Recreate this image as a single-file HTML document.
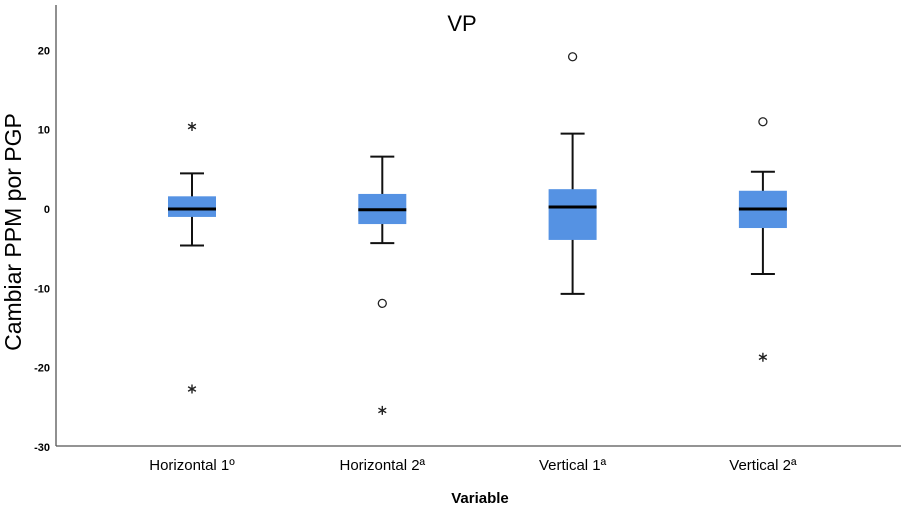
<!DOCTYPE html>
<html><head><meta charset="utf-8"><style>
body{margin:0;background:#fff;}
svg{display:block;font-family:"Liberation Sans",sans-serif;}
</style></head><body>
<svg id="chart" width="905" height="510" viewBox="0 0 905 510">
<text x="462" y="31" font-size="22" text-anchor="middle" fill="#000">VP</text>
<line x1="56" y1="5" x2="56" y2="446" stroke="#555" stroke-width="1.3"/>
<line x1="56" y1="446" x2="901" y2="446" stroke="#555" stroke-width="1.3"/>
<text transform="translate(21,232) rotate(-90)" font-size="23" text-anchor="middle" fill="#000">Cambiar PPM por PGP</text>
<text x="480" y="503" font-size="15" font-weight="bold" text-anchor="middle" fill="#000">Variable</text>
<g id="yticks"></g><g id="xlabels"></g><g id="boxes"></g>
</svg>
<script>
const categories=["Horizontal 1º","Horizontal 2ª","Vertical 1ª","Vertical 2ª"];
const whiskerHigh=[4.5,6.6,9.5,4.7];
const q3=[1.6,1.9,2.5,2.3];
const median=[0,-0.1,0.25,0];
const q1=[-1.0,-1.9,-3.9,-2.4];
const whiskerLow=[-4.6,-4.3,-10.7,-8.2];
const circleOutliers=[[],[-11.9],[19.2],[11.0]];
const starOutliers=[[10.4,-22.7],[-25.4],[],[-18.7]];
const yTicks=[20,10,0,-10,-20,-30];
const NS="http://www.w3.org/2000/svg";
function y(v){return 209-v*7.93;}
function x(i){return 192+i*190.3;}
function mk(t,a,p){const e=document.createElementNS(NS,t);for(const k in a)e.setAttribute(k,a[k]);p.appendChild(e);return e;}
const yt=document.getElementById('yticks');
yTicks.forEach(v=>{const t=mk('text',{x:50,y:y(v)+4,'font-size':11,'font-weight':'bold','text-anchor':'end',fill:'#000'},yt);


t.textContent=v;});
const xl=document.getElementById('xlabels');
categories.forEach((c,i)=>{const t=mk('text',{x:x(i),y:470,'font-size':15,'text-anchor':'middle',fill:'#000'},xl);


t.textContent=c;});
const bx=document.getElementById('boxes');
categories.forEach((c,i)=>{const cx=x(i);
const g=mk('g',{},bx);


mk('line',{x1:cx,x2:cx,y1:y(whiskerHigh[i]),y2:y(whiskerLow[i]),stroke:'#111','stroke-width':2},g);
mk('line',{x1:cx-12,x2:cx+12,y1:y(whiskerHigh[i]),y2:y(whiskerHigh[i]),stroke:'#111','stroke-width':2},g);
mk('line',{x1:cx-12,x2:cx+12,y1:y(whiskerLow[i]),y2:y(whiskerLow[i]),stroke:'#111','stroke-width':2},g);
mk('rect',{x:cx-24,y:y(q3[i]),width:48,height:y(q1[i])-y(q3[i]),fill:'#5592e3'},g);
mk('line',{x1:cx-24,x2:cx+24,y1:y(median[i]),y2:y(median[i]),stroke:'#000','stroke-width':3},g);
circleOutliers[i].forEach(v=>{const o=mk('circle',{cx:cx,cy:y(v),r:4,fill:'none',stroke:'#222','stroke-width':1.3},g);

});
starOutliers[i].forEach(v=>{const cy=y(v);
const s=mk('path',{d:`M${cx},${cy-4.5}L${cx},${cy+4.5}M${cx-3.9},${cy-2.25}L${cx+3.9},${cy+2.25}M${cx-3.9},${cy+2.25}L${cx+3.9},${cy-2.25}`,stroke:'#222','stroke-width':1.4,fill:'none'},g);

});
});
</script>
</body></html>
